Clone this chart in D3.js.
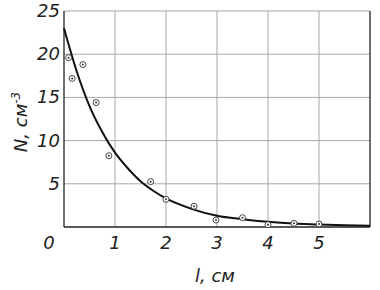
<!DOCTYPE html>
<html>
<head>
<meta charset="utf-8">
<script src="https://cdn.jsdelivr.net/npm/d3@7"></script>
<style>
  body { margin: 0; background: #fff; }
  svg text { font-family: "DejaVu Sans", sans-serif; font-style: italic; fill: #222; }
</style>
</head>
<body>
<main></main>
<script>
// Datos
const xTicks = [0, 1, 2, 3, 4, 5];
const yTicks = [0, 5, 10, 15, 20, 25];

// Puntos medidos
const puntosL = [0.09, 0.16, 0.37, 0.63, 0.88, 1.7, 2.0, 2.55, 2.98, 3.5, 4.0, 4.51, 5.0];
const puntosN = [19.6, 17.2, 18.8, 14.4, 8.25, 5.25, 3.2, 2.4, 0.8, 1.08, 0.27, 0.42, 0.35];

// Curva ajustada
const curvaL = [0, 0.25, 0.5, 0.75, 1, 1.25, 1.5, 1.75, 2, 2.5, 3, 3.5, 4, 4.5, 5, 5.5, 6];
const curvaN = [23.0, 18.0, 14.0, 11.0, 8.6, 6.8, 5.3, 4.2, 3.3, 2.1, 1.3, 0.9, 0.6, 0.4, 0.3, 0.2, 0.15];

const w = 380;
const h = 290;
const m = { left: 64, right: 10, top: 11, bottom: 63 };

var svg = d3.select('main')
    .append('svg')
    .attr('width', w)
    .attr('height', h);

const x = d3.scaleLinear().domain([0, 6]).range([m.left, w - m.right]);
const y = d3.scaleLinear().domain([0, 25]).range([h - m.bottom, m.top]);

// Rejilla
svg.append('g')
    .selectAll('line')
    .data(xTicks.filter((d) => d > 0))
    .enter()
    .append('line')
    .attr('x1', (d) => x(d)).attr('x2', (d) => x(d))
    .attr('y1', y(0)).attr('y2', y(25))
    .attr('stroke', '#a8a8a8');

svg.append('g')
    .selectAll('line')
    .data(yTicks.filter((d) => d > 0))
    .enter()
    .append('line')
    .attr('x1', x(0)).attr('x2', x(6))
    .attr('y1', (d) => y(d)).attr('y2', (d) => y(d))
    .attr('stroke', '#a8a8a8');

// Ejes
svg.append('line')
    .attr('x1', x(0)).attr('x2', x(0)).attr('y1', y(0)).attr('y2', y(25))
    .attr('stroke', '#222').attr('stroke-width', 1.3);
svg.append('line')
    .attr('x1', x(0)).attr('x2', x(6)).attr('y1', y(0)).attr('y2', y(0))
    .attr('stroke', '#222').attr('stroke-width', 1.3);
svg.append('line')
    .attr('x1', x(6)).attr('x2', x(6)).attr('y1', y(0)).attr('y2', y(25))
    .attr('stroke', '#222').attr('stroke-width', 1.3);

// Etiquetas
svg.append('g')
    .selectAll('text')
    .data(yTicks.filter((d) => d > 0))
    .enter()
    .append('text')
    .attr('x', 60)
    .attr('y', (d) => y(d) + 6)
    .attr('text-anchor', 'end')
    .attr('font-size', '18px')
    .text((d) => d);

svg.append('g')
    .selectAll('text')
    .data(xTicks)
    .enter()
    .append('text')
    .attr('x', (d) => d === 0 ? 49 : x(d))
    .attr('y', 249)
    .attr('text-anchor', 'middle')
    .attr('font-size', '18px')
    .text((d) => d);

// Títulos
svg.append('text')
    .attr('x', 215)
    .attr('y', 282)
    .attr('text-anchor', 'middle')
    .attr('font-size', '18px')
    .text('l, см');

var tituloY = svg.append('text')
    .attr('transform', 'translate(27,122) rotate(-90)')
    .attr('text-anchor', 'middle')
    .attr('font-size', '18px');
tituloY.append('tspan').text('N, см');
tituloY.append('tspan').attr('dy', -7).attr('font-size', '12px').text('-3');

// Curva
const linea = d3.line()
    .x((d, i) => x(curvaL[i]))
    .y((d) => y(d))
    .curve(d3.curveMonotoneX);

svg.append('path')
    .datum(curvaN)
    .attr('d', linea)
    .attr('fill', 'none')
    .attr('stroke', '#111')
    .attr('stroke-width', 2);

// Puntos
var pts = svg.append('g')
    .selectAll('g')
    .data(puntosN)
    .enter()
    .append('g')
    .attr('transform', (d, i) => `translate(${x(puntosL[i])},${y(d)})`);

pts.append('circle')
    .attr('r', 3)
    .attr('fill', 'white')
    .attr('stroke', '#444')
    .attr('stroke-width', 1);

pts.append('circle')
    .attr('r', 1)
    .attr('fill', '#333');
</script>
</body>
</html>
